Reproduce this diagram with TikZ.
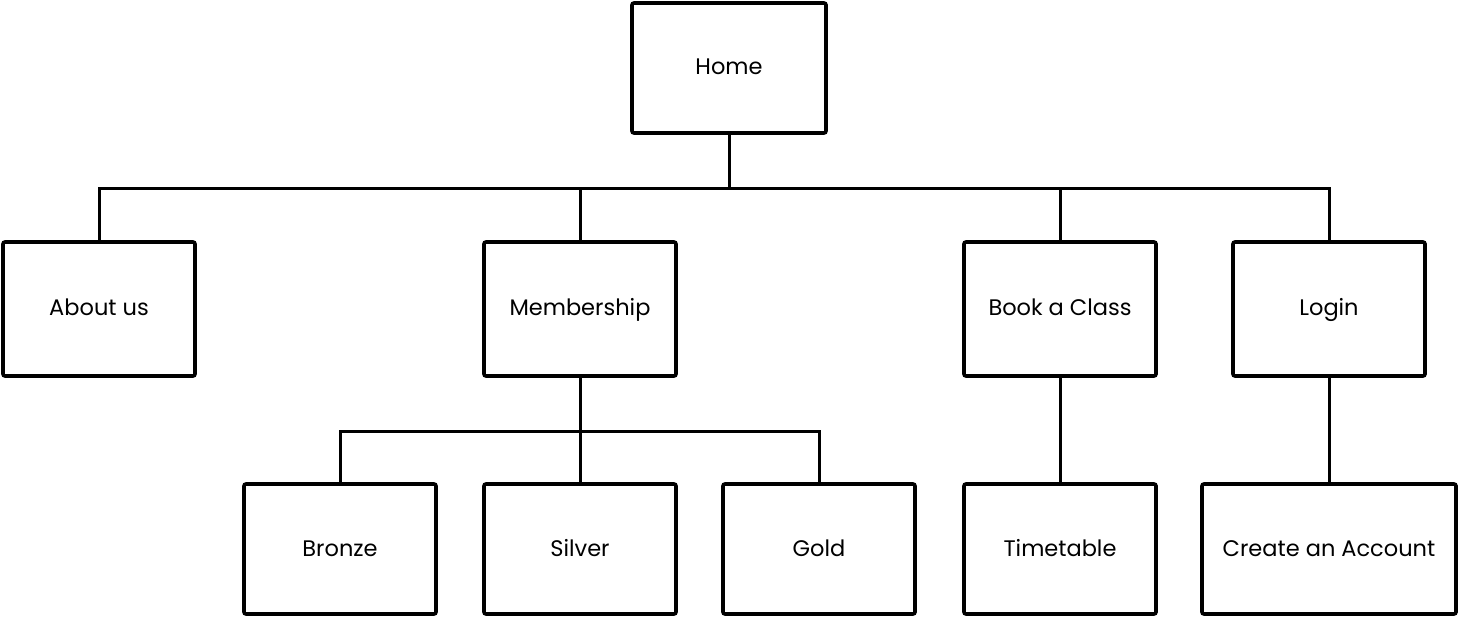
\documentclass[tikz,border=0pt]{standalone}
\usepackage{fontspec}
\setmainfont{Poppins}
\usetikzlibrary{positioning}

\begin{document}
\begin{tikzpicture}[x=1pt,y=-1pt,
  page/.style={draw,line width=3.6pt,rounded corners=2pt,minimum width=192pt,minimum height=132pt,font=\fontsize{22.5}{26}\selectfont,text height=1.4em,text depth=0pt,inner sep=0pt},
  link/.style={line width=3pt}]
\useasboundingbox (0,0) rectangle (1460,620);
% top level
\node[page,minimum width=194pt,minimum height=130pt] (home) at (729,68) {Home};
% second level
\node[page,minimum height=134pt] (about) at (99,309) {About us};
\node[page,minimum height=134pt] (member) at (580,309) {Membership};
\node[page,minimum height=134pt] (book) at (1060,309) {Book a Class};
\node[page,minimum height=134pt] (login) at (1329,309) {Login};
% third level
\node[page,minimum height=130pt] (bronze) at (340,549) {Bronze};
\node[page,minimum height=130pt] (silver) at (580,549) {Silver};
\node[page,minimum height=130pt] (gold) at (819,549) {Gold};
\node[page,minimum height=130pt] (timetable) at (1060,549) {Timetable};
\node[page,minimum width=254pt,minimum height=130pt] (account) at (1329,549) {Create an Account};
% connectors
\foreach \n in {about,member,book,login}
  \draw[link] (home.south) -- ++(0,54) -| (\n.north);
\foreach \n in {bronze,silver,gold}
  \draw[link] (member.south) -- ++(0,54) -| (\n.north);
\draw[link] (book) -- (timetable);
\draw[link] (login) -- (account);
\end{tikzpicture}
\end{document}
